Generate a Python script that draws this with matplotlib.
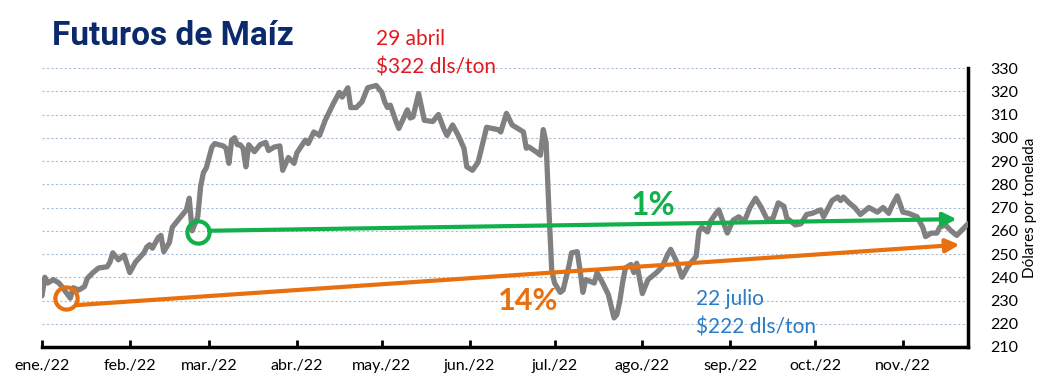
import matplotlib.pyplot as plt
import numpy as np
import pandas as pd

# dias desde el 1 de enero de 2022 y precio (dls/ton)
dia = [0, 1, 2, 4, 6, 7, 10, 11, 13, 15,
       16, 18, 20, 23, 24, 25, 27, 29, 31, 33,
       36, 37, 38, 39, 41, 42, 43, 45, 46, 49,
       51, 52, 53, 55, 56, 57, 58, 60, 61, 64,
       65, 66, 67, 68, 69, 70, 71, 72, 73, 75,
       77, 79, 80, 82, 84, 85, 87, 89, 90, 93,
       94, 96, 98, 100, 103, 105, 106, 108, 109, 111,
       113, 115, 118, 120, 121, 122, 123, 125, 126, 129,
       130, 131, 133, 135, 138, 140, 142, 143, 145, 147,
       149, 150, 152, 154, 155, 157, 161, 162, 164, 166,
       170, 171, 172, 175, 176, 177, 178, 179, 180, 181,
       183, 184, 186, 187, 189, 190, 191, 192, 195, 196,
       198, 200, 202, 203, 204, 205, 206, 208, 209, 210,
       212, 214, 215, 217, 219, 221, 222, 224, 226, 228,
       230, 231, 232, 233, 235, 236, 238, 239, 240, 242,
       244, 246, 248, 250, 252, 254, 256, 258, 260, 262,
       263, 266, 268, 270, 272, 275, 276, 279, 281, 282,
       283, 285, 287, 289, 292, 295, 297, 299, 300, 302,
       304, 306, 309, 311, 312, 314, 316, 317, 319, 321,
       323, 327]
precio = [232, 240, 237.5, 239, 237.5, 236, 231, 235.5, 234.5, 236,
          239.5, 242, 244, 244.5, 246.5, 250.5, 247.5, 249.5, 242, 246.5,
          250.5, 253, 254, 252.5, 257, 258, 251, 255, 261.5, 266,
          269, 274, 260, 266, 279, 285, 287, 296, 297.5, 296.5,
          295.5, 289, 299, 300, 297, 297, 295.5, 287.5, 297, 294,
          297, 298, 294.5, 296, 296.5, 286, 291.5, 289, 293.5, 299,
          297.5, 302.5, 301, 307.5, 315, 319.5, 317.5, 321.5, 313, 313,
          315.5, 321.5, 322.5, 319.5, 315.5, 313, 314, 307, 304, 312,
          308.5, 309, 319, 307.5, 307, 310, 303.5, 301, 305.5, 301,
          295.5, 287.5, 286, 289.5, 294.5, 304.5, 303.5, 302.5, 310.5, 305.5,
          302.5, 295.5, 296, 293.5, 292.5, 303.5, 298, 269, 243, 237.5,
          233.5, 234.5, 244.5, 250.5, 251, 243, 233.5, 239, 237.5, 242,
          237.5, 232.5, 222.5, 224, 229.5, 237.5, 244, 245.5, 242, 246,
          233, 239, 240, 242, 244.5, 250, 252, 247, 240, 244.5,
          247.5, 249, 260, 261.5, 259.5, 264, 267.5, 269, 265.5, 259,
          264.5, 266, 264, 270, 274, 270, 265, 265, 272, 270.5,
          265.5, 262.5, 263, 267, 267.5, 269, 266, 273, 274.5, 273,
          274.5, 272, 270, 267, 270, 268, 270, 267.5, 270.5, 275,
          268, 267.5, 266, 261.5, 257.5, 259, 259, 261.5, 262.5, 260,
          258, 263]

meses = ['ene./22', 'feb./22', 'mar./22', 'abr./22', 'may./22', 'jun./22',
         'jul./22', 'ago./22', 'sep./22', 'oct./22', 'nov./22']

# tendencias: (dia, precio) inicio y fin
verde_dia = [59, 323]
verde_precio = [260, 265]
naranja_dia = [12, 324]
naranja_precio = [228, 254]
circulo_verde = (55, 259.5)
circulo_naranja = (8.5, 231)

VERDE = '#12b04a'
NARANJA = '#e8700f'
base = pd.Timestamp('2022-01-01')
def f(d):
    return base + pd.to_timedelta(d, unit='D')

fechas = f(np.array(dia))

fig = plt.figure(figsize=(10.37, 3.92), dpi=100)
ax = fig.add_axes([0.0405, 0.1148, 0.893, 0.7117])

ax.plot(fechas, precio, color='#808080', lw=3.8, solid_joinstyle='round',
        solid_capstyle='round', zorder=3)

ax.annotate('', xy=(f(verde_dia[1]), verde_precio[1]),
            xytext=(f(verde_dia[0]), verde_precio[0]),
            arrowprops=dict(arrowstyle='-|>', color=VERDE, lw=3, mutation_scale=20,
                            shrinkA=0, shrinkB=0), zorder=4)
ax.annotate('', xy=(f(naranja_dia[1]), naranja_precio[1]),
            xytext=(f(naranja_dia[0]), naranja_precio[0]),
            arrowprops=dict(arrowstyle='-|>', color=NARANJA, lw=3, mutation_scale=20,
                            shrinkA=0, shrinkB=0), zorder=4)
ax.plot(f(circulo_verde[0]), circulo_verde[1], 'o', mfc='none', mec=VERDE,
        ms=16, mew=3, zorder=5)
ax.plot(f(circulo_naranja[0]), circulo_naranja[1], 'o', mfc='none', mec=NARANJA,
        ms=16, mew=3, zorder=5)

# textos
ax.text(f(118), 336.5, '29 abril\n$322 dls/ton', color='#e3191f', fontsize=15,
        family='Lato', va='center', ha='left', linespacing=1.55, clip_on=False)
ax.text(f(231), 224.6, '22 julio\n$222 dls/ton', color='#2a7cc4', fontsize=15,
        family='Lato', va='center', ha='left', linespacing=1.55, clip_on=False)
ax.text(f(208), 271, '1%', color=VERDE, fontsize=23, fontweight='bold',
        family='Lato', va='center', ha='left')
ax.text(f(161), 230, '14%', color=NARANJA, fontsize=22, fontweight='bold',
        family='Lato', va='center', ha='left')
fig.text(0.05, 0.908, 'Futuros de Maíz', color='#0b2a6b', fontsize=24,
         fontweight='bold', family='Roboto', va='center', ha='left')

# ejes
ax.set_xlim(f(0), f(327))
ax.set_ylim(210, 330)
ax.set_yticks(np.arange(210, 331, 10))
ax.set_xticks([f(d) for d in [0, 31, 59, 90, 120, 151, 181, 212, 243, 273, 304]])
ax.set_xticklabels(meses, family='Lato', fontsize=11.5)
ax.yaxis.tick_right()
ax.yaxis.set_label_position('right')
ax.set_ylabel('Dólares por tonelada', family='Lato', fontsize=11, labelpad=3)
for t in ax.get_yticklabels():
    t.set_family('Lato')
    t.set_fontsize(11.5)
ax.tick_params(axis='y', length=0, pad=16)
ax.tick_params(axis='x', direction='in', length=5, width=2, pad=9)
ax.yaxis.grid(True, ls=(0, (2, 2)), color='#a9bdd4', lw=0.8)
ax.set_axisbelow(True)
for s in ['top', 'left']:
    ax.spines[s].set_visible(False)
ax.spines['right'].set_linewidth(2.5)
ax.spines['bottom'].set_linewidth(2.5)

fig.savefig('out.png', dpi=100)
